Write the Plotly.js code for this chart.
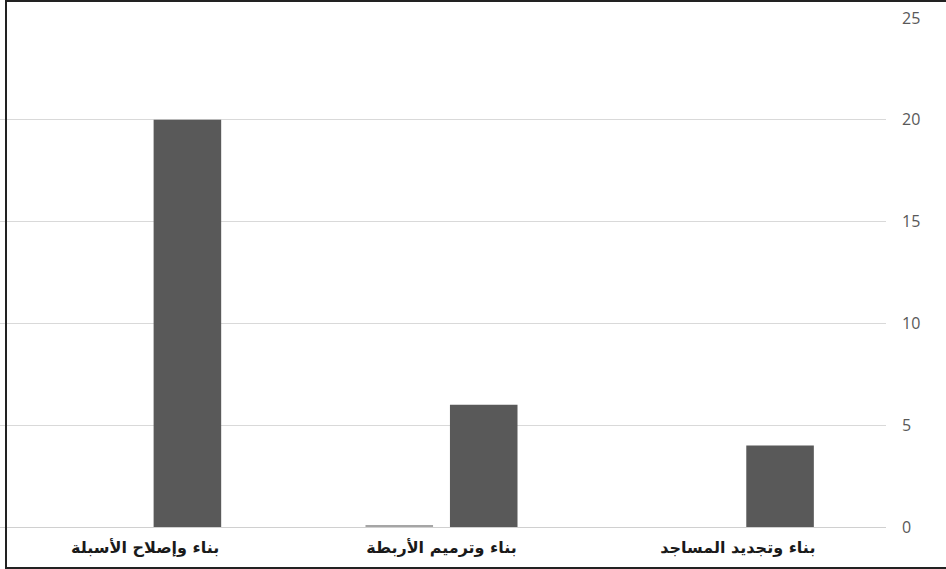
<!DOCTYPE html>
<html>
<head>
<meta charset="utf-8">
<script src="https://cdn.plot.ly/plotly-3.0.1.min.js"></script>
<style>
html,body{margin:0;padding:0;background:#fff;overflow:hidden;}
#chart{position:absolute;left:-3px;top:0;width:949px;height:569px;}
#frame{position:absolute;left:5px;top:0px;width:960px;height:565px;border:2px solid #222;pointer-events:none;}
</style>
</head>
<body>
<div id="chart"></div>
<div id="frame"></div>
<script>
const categories = ["بناء وإصلاح الأسبلة", "بناء وترميم الأربطة", "بناء وتجديد المساجد"];
const seriesLight = [0, 0.1, 0];
const seriesDark = [20, 6, 4];
const yTicks = [0, 5, 10, 15, 20, 25];

const traces = [
  {type:'bar', x:categories, y:seriesLight, marker:{color:'#a5a5a5'}, hoverinfo:'none'},
  {type:'bar', x:categories, y:seriesDark, marker:{color:'#595959'}, hoverinfo:'none'}
];

const layout = {
  width:949, height:569,
  margin:{l:0, r:60, t:18, b:42},
  paper_bgcolor:'#fff', plot_bgcolor:'#fff',
  showlegend:false,
  barmode:'group',
  bargap:0.43,
  bargroupgap:0.2,
  xaxis:{
    type:'category',
    showgrid:false, zeroline:false, showline:false,
    ticks:'', ticklabelstandoff:9,
    tickfont:{family:'DejaVu Sans', size:16, color:'#1a1a1a', weight:'bold'}
  },
  yaxis:{
    side:'right',
    range:[0,25],
    tickvals:yTicks,
    ticktext:yTicks.map(String),
    showgrid:true, gridcolor:'#d9d9d9', gridwidth:1,
    zeroline:true, zerolinecolor:'#d0d0d0', zerolinewidth:1,
    showline:false, ticks:'',
    ticklabelstandoff:15,
    tickfont:{family:'Open Sans', size:16, color:'#595959'}
  }
};

Plotly.newPlot('chart', traces, layout, {staticPlot:true, displayModeBar:false});
</script>
</body>
</html>
